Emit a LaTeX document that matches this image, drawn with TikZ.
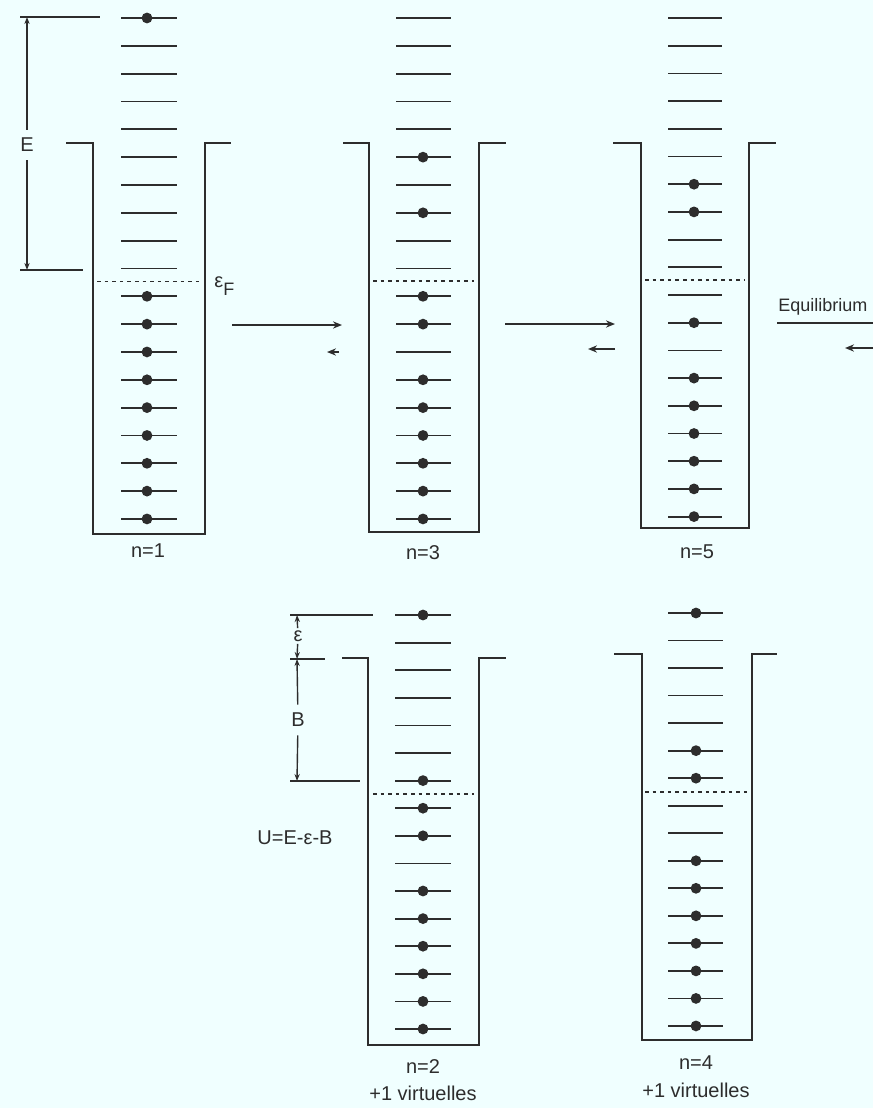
\documentclass[tikz,border=0pt]{standalone}
\usepackage{fontspec}
\setmainfont{Liberation Sans}
\usetikzlibrary{arrows.meta}
\definecolor{paper}{RGB}{240,255,255}
\definecolor{ink}{RGB}{45,45,45}
% well outline: rim-left, wall-left, wall-right, rim-right, top, bottom
\newcommand\potwell[6]{%
  \draw[wall] (#1,#5) -- (#2,#5) -- (#2,#6) -- (#3,#6) -- (#3,#5) -- (#4,#5);}
\begin{document}
\begin{tikzpicture}[x=0.5pt,y=-0.5pt,
  thinline/.style={draw=ink,line width=0.85pt},
  level/.style={draw=ink,line width=0.9pt},
  wall/.style={draw=ink,line width=0.9pt,line join=miter},
  fermi/.style={draw=ink,line width=0.7pt,dash pattern=on 1.8pt off 2pt},
  electron/.style={circle,fill=ink,inner sep=0pt,minimum size=5.4pt},
  lbl/.style={font=\fontsize{10}{12}\selectfont,text=ink,inner sep=1pt},
  arr/.style={draw=ink,line width=0.9pt,-{Stealth[length=4.5pt,width=3.6pt]}},
  dim/.style={draw=ink,line width=0.7pt,-{Stealth[length=3.5pt,width=2.6pt]}},
]
\fill[paper] (0,0) rectangle (873,1108);
\useasboundingbox (0,0) rectangle (873,1108);

% ---------- n = 1 ----------
\potwell{66}{93}{205}{231}{143}{534}
\foreach \i in {0,...,18} \draw[level] (121,{18+27.83*\i}) -- (177,{18+27.83*\i});
\foreach \i in {0,10,11,...,18} \node[electron] (wa\i) at (147,{18+27.83*\i}) {};
\draw[fermi] (97,281.5) -- (200,281.5);
\node[lbl] (na) at (148,551) {n=1};

% energy E
\draw[thinline] (20,17) -- (100,17);
\draw[thinline] (20,270) -- (83,270);
\coordinate (Etop) at (27,17);
\coordinate (Ebot) at (27,270);
\node[lbl,inner sep=4pt] (Elbl) at (27,145) {E};
\draw[dim] (Elbl) -- (Etop);
\draw[dim] (Elbl) -- (Ebot);
\node[lbl,anchor=west] (EF) at (212,286) {ε\raisebox{-0.75ex}{\fontsize{9}{10}\selectfont F}};

% ---------- n = 3 ----------
\potwell{343}{369}{479}{506}{143}{532}
\foreach \i in {0,...,18} \draw[level] (396,{18+27.83*\i}) -- (451,{18+27.83*\i});
\foreach \i in {5,7,10,11,13,14,...,18} \node[electron] (wc\i) at (423,{18+27.83*\i}) {};
\draw[fermi] (373,281) -- (474,281);
\node[lbl] (nc) at (423,553) {n=3};

% ---------- n = 5 ----------
\potwell{613}{641}{749}{776}{143}{528}
\foreach \i in {0,...,18} \draw[level] (668,{18+27.7*\i}) -- (722,{18+27.7*\i});
\foreach \i in {6,7,11,13,14,...,18} \node[electron] (we\i) at (694,{18+27.7*\i}) {};
\draw[fermi] (645,280) -- (744,280);
\node[lbl] (ne) at (697,552) {n=5};

% transitions
\coordinate (p1s) at (232,325); \coordinate (p1e) at (342,325);
\coordinate (q1s) at (339,352); \coordinate (q1e) at (327,352);
\draw[arr] (p1s) -- (p1e);
\draw[arr] (q1s) -- (q1e);
\coordinate (p2s) at (505,324); \coordinate (p2e) at (615,324);
\coordinate (q2s) at (615,349); \coordinate (q2e) at (588,349);
\draw[arr] (p2s) -- (p2e);
\draw[arr] (q2s) -- (q2e);
\node[lbl,anchor=west,font=\fontsize{9}{11}\selectfont] (eq) at (776,307) {Equilibrium};
\coordinate (p3s) at (777,323); \coordinate (p3e) at (873,323);
\coordinate (q3s) at (873,348); \coordinate (q3e) at (845,348);
\draw[thinline] (p3s) -- (p3e);
\draw[arr] (q3s) -- (q3e);

% ---------- n = 2 ----------
\potwell{342}{368}{479}{506}{658}{1045}
\foreach \i in {0,...,15} \draw[level] (395,{615+27.6*\i}) -- (451,{615+27.6*\i});
\foreach \i in {0,6,7,8,10,11,...,15} \node[electron] (wb\i) at (423,{615+27.6*\i}) {};
\draw[fermi] (373,794) -- (474,794);
\node[lbl] (nb) at (423,1067) {n=2};
\node[lbl] (vb) at (423,1093) {+1 virtuelles};

% binding energies
\draw[thinline] (290,615) -- (373,615);
\draw[thinline] (290,659) -- (325,659);
\draw[thinline] (290,781) -- (360,781);
\coordinate (etop) at (297,615);
\coordinate (emid) at (297,659);
\coordinate (bbot) at (297,781);
\node[lbl] (epsl) at (298,636) {ε};
\draw[dim] (epsl) -- (etop);
\draw[dim] (epsl) -- (emid);
\node[lbl,inner sep=4pt] (Bl) at (298,720) {B};
\draw[dim] (Bl) -- (emid);
\draw[dim] (Bl) -- (bbot);
\node[lbl] (U) at (295,838) {U=E-ε-B};

% ---------- n = 4 ----------
\potwell{614}{642}{752}{777}{654}{1040}
\foreach \i in {0,...,15} \draw[level] (668,{613+27.53*\i}) -- (723,{613+27.53*\i});
\foreach \i in {0,5,6,9,10,...,15} \node[electron] (wd\i) at (696,{613+27.53*\i}) {};
\draw[fermi] (645,792) -- (747,792);
\node[lbl] (nd) at (696,1063) {n=4};
\node[lbl] (vd) at (696,1090) {+1 virtuelles};
\end{tikzpicture}
\end{document}
